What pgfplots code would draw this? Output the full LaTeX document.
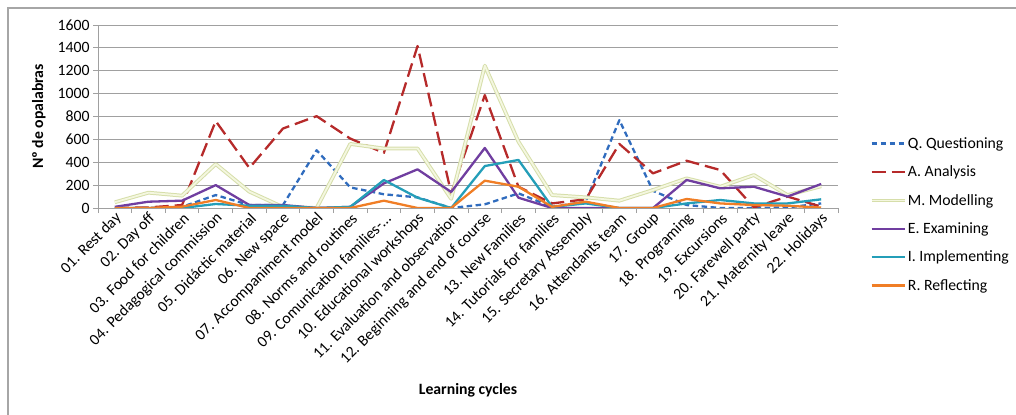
\documentclass[border=0pt]{standalone}
\usepackage{pgfplots}
\pgfplotsset{compat=1.18}
\usepackage{fontspec}
\setmainfont{Carlito}

\definecolor{cQ}{RGB}{48,108,190}
\definecolor{cA}{RGB}{182,42,42}
\definecolor{cMout}{RGB}{214,222,170}
\definecolor{cMin}{RGB}{244,247,224}
\definecolor{cE}{RGB}{112,62,160}
\definecolor{cI}{RGB}{36,158,184}
\definecolor{cR}{RGB}{240,126,38}
\definecolor{gridc}{RGB}{160,160,160}

\newcommand{\tfont}{\fontsize{15.8}{18}\selectfont}

\begin{document}
\begin{tikzpicture}
\useasboundingbox (0,0) rectangle (1016bp,415bp);
\draw[gray!70, line width=1.3bp] (8bp,0) -- (8bp,407bp) -- (1016bp,407bp);

\begin{axis}[
    at={(98bp,207bp)}, anchor=south west,
    scale only axis,
    width=740bp, height=183bp,
    xmin=0.5, xmax=22.5,
    ymin=0, ymax=1600,
    ytick={0,200,...,1600},
    xtick={0.5,1.5,...,22.5},
    x tick label as interval=true,
    xticklabels={01. Rest day, 02. Day off, 03. Food for children,
      04. Pedagogical commission, 05. Didáctic material, 06. New space,
      07. Accompaniment model, 08. Norms and routines,
      {09. Comunication families-…}, 10. Educational workshops,
      11. Evaluation and observation, 12. Beginning and end of course,
      13. New Families, 14. Tutorials for families, 15. Secretary Assembly,
      16. Attendants team, 17. Group, 18. Programing, 19. Excursions,
      20. Farewell party, 21. Maternity leave, 22. Holidays},
    xticklabel style={rotate=45, anchor=east, font=\tfont, inner sep=1bp,
      yshift=-5bp, xshift=2bp},
    yticklabel style={font=\tfont, /pgf/number format/1000 sep={}},
    /pgf/number format/assume math mode=true,
    axis lines*=left,
    axis line style={gridc, line width=0.9bp},
    tick align=outside,
    major tick length=5bp,
    tick style={gridc, line width=0.9bp},
    ymajorgrids, grid style={gridc, line width=0.9bp},
    xlabel={\textbf{Learning cycles}},
    xlabel style={at={(axis description cs:0.5,-0.995)}, anchor=center, font=\tfont},
    ylabel={\textbf{Nº de opalabras}},
    ylabel style={at={(axis description cs:-0.08,0.5)}, anchor=center, font=\tfont},
    legend cell align=left,
    legend style={at={(axis description cs:1.0425,-0.036)}, anchor=west,
      draw=none, fill=none, font=\tfont, row sep=12bp, inner sep=0pt,
      nodes={inner xsep=1.5bp}},
    legend image code/.code={\draw[#1] (0bp,0bp) -- (33bp,0bp);},
    every axis plot/.append style={line width=2.3bp, mark=none, line join=round},
]

\addplot[cQ, dash pattern=on 5.5bp off 3.5bp] coordinates {
  (1,0) (2,0) (3,10) (4,113) (5,26) (6,26) (7,505) (8,180) (9,120) (10,93) (11,0)
  (12,32) (13,128) (14,10) (15,55) (16,768) (17,150) (18,26) (19,0) (20,0) (21,5) (22,40)
};
\addlegendentry{Q. Questioning}

\addplot[cA, dash pattern=on 14bp off 6bp] coordinates {
  (1,0) (2,5) (3,26) (4,760) (5,350) (6,695) (7,803) (8,607) (9,482) (10,1416) (11,130)
  (12,987) (13,186) (14,40) (15,76) (16,560) (17,303) (18,413) (19,332) (20,5) (21,100) (22,12)
};
\addlegendentry{A. Analysis}

\addplot[cMout, line width=1bp, double=cMin, double distance=1.8bp] coordinates {
  (1,50) (2,134) (3,108) (4,384) (5,143) (6,8) (7,0) (8,560) (9,520) (10,520) (11,80)
  (12,1244) (13,580) (14,113) (15,93) (16,64) (17,157) (18,259) (19,186) (20,288) (21,113) (22,190)
};
\addlegendentry{M. Modelling}

\addplot[cE] coordinates {
  (1,10) (2,55) (3,64) (4,200) (5,26) (6,26) (7,0) (8,10) (9,215) (10,338) (11,140)
  (12,525) (13,90) (14,0) (15,0) (16,0) (17,0) (18,245) (19,172) (20,186) (21,100) (22,210)
};
\addlegendentry{E. Examining}

\addplot[cI] coordinates {
  (1,0) (2,0) (3,0) (4,35) (5,20) (6,20) (7,0) (8,10) (9,245) (10,90) (11,0)
  (12,367) (13,420) (14,10) (15,40) (16,0) (17,0) (18,40) (19,70) (20,40) (21,40) (22,76)
};
\addlegendentry{I. Implementing}

\addplot[cR] coordinates {
  (1,0) (2,0) (3,12) (4,70) (5,0) (6,0) (7,0) (8,0) (9,64) (10,0) (11,0)
  (12,239) (13,186) (14,10) (15,55) (16,0) (17,0) (18,79) (19,40) (20,26) (21,20) (22,3)
};
\addlegendentry{R. Reflecting}

\end{axis}
\end{tikzpicture}
\end{document}
